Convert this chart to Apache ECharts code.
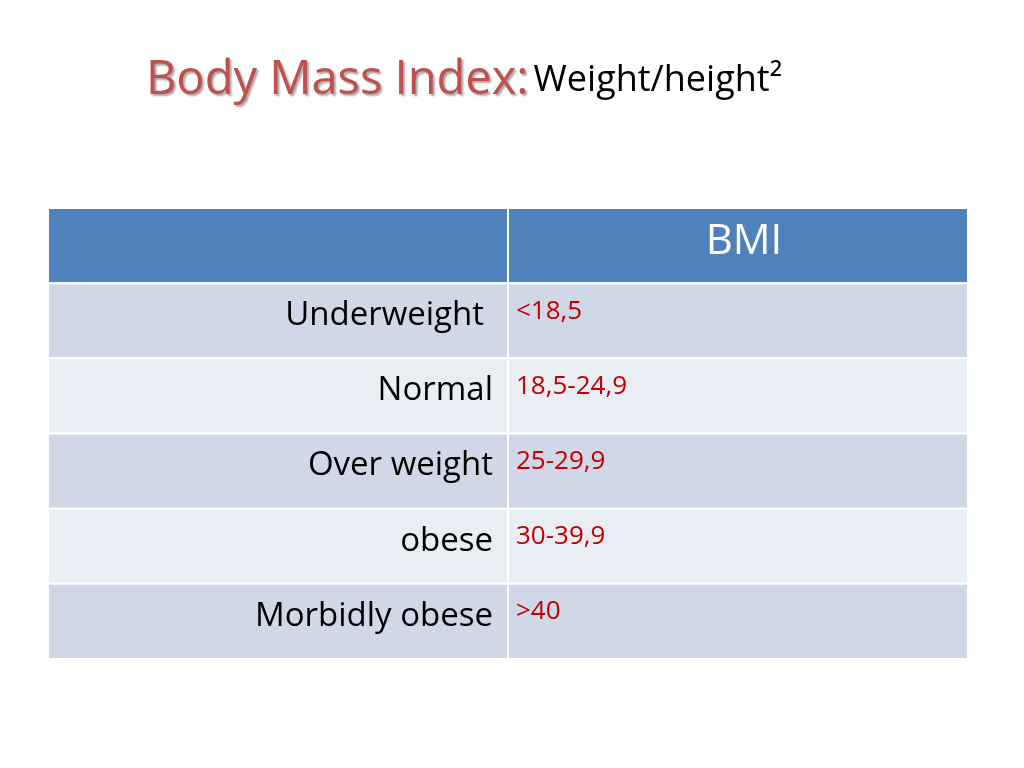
<!DOCTYPE html>
<html><head><meta charset="utf-8">
<script src="https://cdn.jsdelivr.net/npm/echarts@6/dist/echarts.min.js"></script>
<style>html,body{margin:0;padding:0;background:#fff}#c{width:1024px;height:768px}</style>
</head><body><div id="c"></div>
<script>
var columns = ['', 'BMI'];
var categories = ['Underweight', 'Normal', 'Over weight', 'obese', 'Morbidly obese'];
var bmiRanges = ['<18,5', '18,5-24,9', '25-29,9', '30-39,9', '>40'];

var rows = ['header'].concat(categories);
var cells = [];
for (var r = 0; r < rows.length; r++) {
  for (var c = 0; c < 2; c++) {
    var txt = r === 0 ? columns[c] : (c === 0 ? categories[r - 1] : bmiRanges[r - 1]);
    cells.push([c, r, txt]);
  }
}
var chart = echarts.init(document.getElementById('c'));
chart.setOption({
  backgroundColor: '#fff',
  animation: false,
  title: {
    left: 141, top: 52,
    text: '{a|Body Mass Index:} {b|Weight/height²}',
    textStyle: {
      fontWeight: 'normal',
      rich: {
        a: { fontFamily: 'Open Sans', fontSize: 47, fontWeight: 'normal', color: '#C0504D',
             textShadowColor: 'rgba(0,0,0,0.35)', textShadowBlur: 2, textShadowOffsetX: 2, textShadowOffsetY: 2 },
        b: { fontFamily: 'Open Sans', fontSize: 36, fontWeight: 'normal', color: '#000' }
      }
    }
  },
  grid: { left: 48, right: 56, top: 208, bottom: 109 },
  xAxis: { type: 'category', data: [0, 1], show: false },
  yAxis: { type: 'category', data: rows, inverse: true, show: false },
  series: [{
    type: 'custom',
    data: cells,
    renderItem: function (params, api) {
      var x = api.value(0), y = api.value(1), t = cells[params.dataIndex][2];
      var p = api.coord([x, y]), s = api.size([1, 1]);
      var l = p[0] - s[0] / 2, top = p[1] - s[1] / 2;
      var fill = y === 0 ? '#4F81BD' : (y % 2 === 1 ? '#D0D8E8' : '#E9EDF4');
      var children = [{
        type: 'rect',
        shape: { x: l, y: top, width: s[0], height: s[1] },
        style: { fill: fill, stroke: '#fff', lineWidth: 2 }
      }];
      var ts;
      if (y === 0) {
        ts = { x: p[0] + 6, y: p[1] - 4, text: t, fill: '#fff', fontSize: 42, fontFamily: 'Open Sans', align: 'center', verticalAlign: 'middle' };
      } else if (x === 0) {
        ts = { x: l + s[0] - (y === 1 ? 24 : 15), y: p[1] - 5, text: t, fill: '#000', fontSize: 33, fontFamily: 'Open Sans', align: 'right', verticalAlign: 'middle' };
      } else {
        ts = { x: l + 8, y: top + 28, text: t, fill: '#C00000', fontSize: 26, fontFamily: 'Open Sans', align: 'left', verticalAlign: 'middle' };
      }
      children.push({ type: 'text', style: ts });
      return { type: 'group', children: children };
    }
  }]
});
</script></body></html>
